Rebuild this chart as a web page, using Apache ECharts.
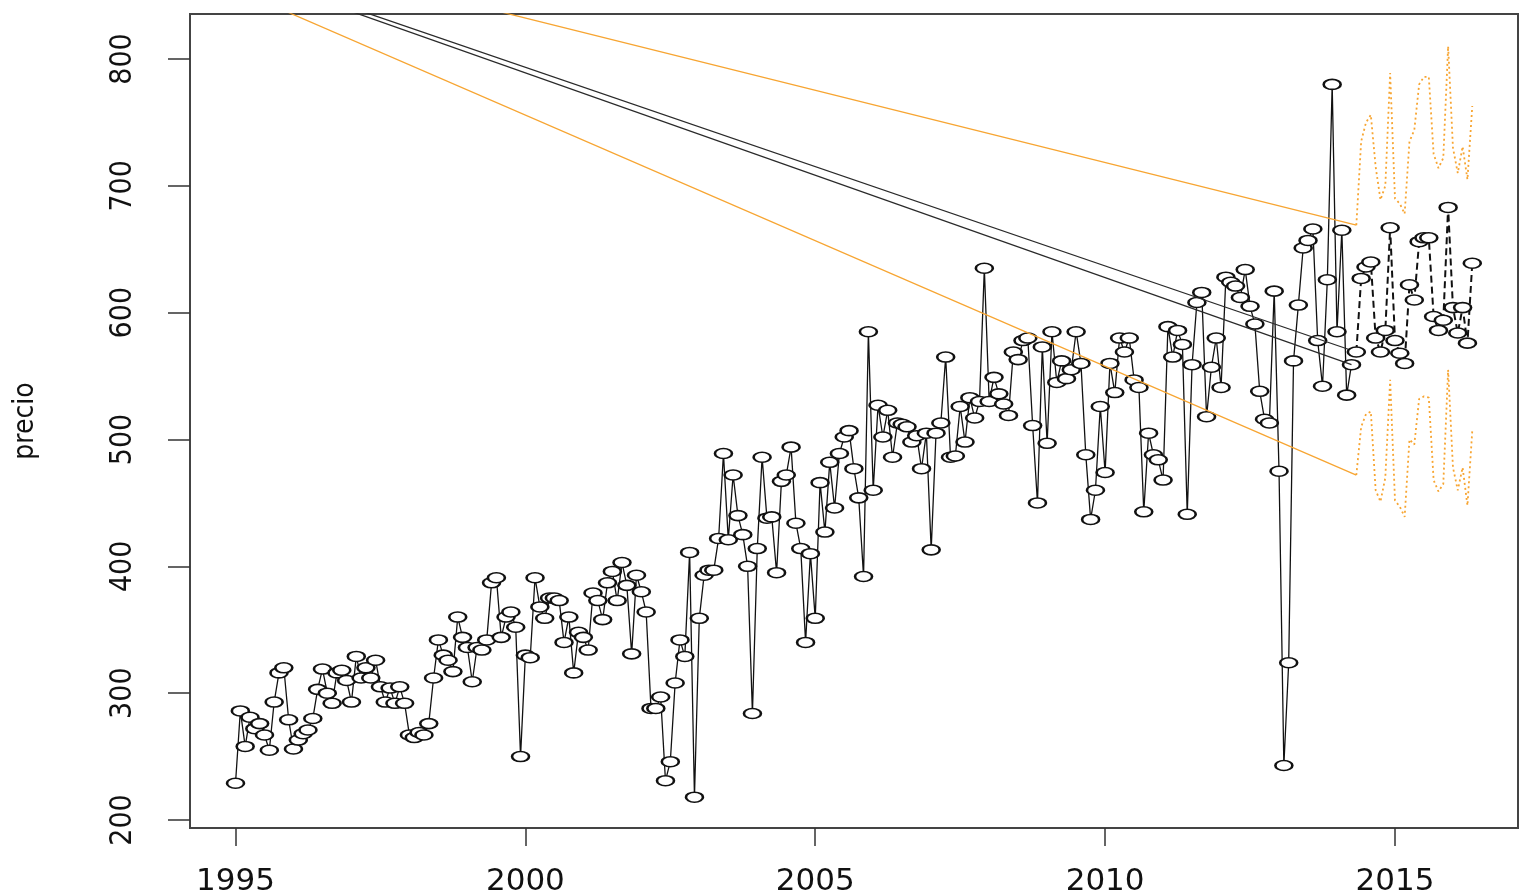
<!DOCTYPE html>
<html>
<head>
<meta charset="utf-8">
<title>precio</title>
<script src="https://cdn.jsdelivr.net/npm/echarts@6/dist/echarts.min.js"></script>
<style>
  html, body { margin: 0; padding: 0; background: #ffffff; }
  #chart { width: 1522px; height: 892px; }
</style>
</head>
<body>
<div id="chart"></div>
<script>
// Monthly price series, January 1995 to April 2014
const inicioSerie = 1995;
const precio = [
  229, 286, 258, 281, 272, 276, 267, 255, 293, 316, 320, 279,   // 1995
  256, 263, 268, 271, 280, 303, 319, 300, 292, 316, 318, 310,   // 1996
  293, 329, 312, 320, 312, 326, 305, 293, 304, 292, 305, 292,   // 1997
  267, 265, 269, 267, 276, 312, 342, 330, 326, 317, 360, 344,   // 1998
  336, 309, 336, 334, 342, 387, 391, 344, 360, 364, 352, 250,   // 1999
  330, 328, 391, 368, 359, 375, 375, 373, 340, 360, 316, 348,   // 2000
  344, 334, 379, 373, 358, 387, 396, 373, 403, 385, 331, 393,   // 2001
  380, 364, 288, 288, 297, 231, 246, 308, 342, 329, 411, 218,   // 2002
  359, 393, 397, 397, 422, 489, 421, 472, 440, 425, 400, 284,   // 2003
  414, 486, 438, 439, 395, 467, 472, 494, 434, 414, 340, 410,   // 2004
  359, 466, 427, 482, 446, 489, 502, 507, 477, 454, 392, 585,   // 2005
  460, 527, 502, 523, 486, 513, 512, 510, 498, 503, 477, 505,   // 2006
  413, 505, 513, 565, 486, 487, 526, 498, 533, 517, 530, 635,   // 2007
  530, 549, 536, 528, 519, 569, 563, 578, 580, 511, 450, 573,   // 2008
  497, 585, 545, 562, 548, 555, 585, 560, 488, 437, 460, 526,   // 2009
  474, 560, 537, 580, 569, 580, 547, 541, 443, 505, 488, 484,   // 2010
  468, 589, 565, 586, 575, 441, 559, 608, 616, 518, 557, 580,   // 2011
  541, 628, 624, 621, 612, 634, 605, 591, 538, 516, 513, 617,   // 2012
  475, 243, 324, 562, 606, 651, 657, 666, 578, 542, 626, 780,   // 2013
  585, 665, 535, 559                                            // 2014
];

// Forecast from May 2014 with its upper and lower limits
const inicioPronostico = 2014 + 4 / 12;
const pronostico = [569, 627, 636, 640, 580, 569, 586, 667, 578, 568, 560, 622, 610,
                    656, 659, 659, 597, 586, 594, 683, 604, 584, 604, 576, 639];
const limiteSuperior = [669, 735, 750, 756, 715, 689, 700, 789, 690, 686, 678, 735, 744,
                        780, 786, 786, 725, 714, 722, 810, 730, 710, 731, 705, 763];
const limiteInferior = [472, 510, 520, 522, 460, 451, 470, 547, 452, 447, 439, 500, 496,
                        532, 534, 533, 468, 459, 465, 555, 478, 460, 478, 448, 507];

// Shared starting point of the straight segments drawn with the forecast
const origenSegmentos = [1990.9, 936];

// Axis ticks
const ticksX = [1995, 2000, 2005, 2010, 2015];
const ticksY = [200, 300, 400, 500, 600, 700, 800];

const aSerie = (valores, inicio) => valores.map((v, i) => [inicio + i / 12, v]);

const datosPrecio = aSerie(precio, inicioSerie);
const datosPronostico = aSerie(pronostico, inicioPronostico);
const datosSup = aSerie(limiteSuperior, inicioPronostico);
const datosInf = aSerie(limiteInferior, inicioPronostico);

const NEGRO = '#111111';
const NARANJA = '#F7A532';
const simbolo = [17, 10];
const fuenteEjeY = '"DejaVu Sans Condensed", "DejaVu Sans", sans-serif';

function segmento(fin, color) {
  return {
    type: 'line',
    data: [origenSegmentos, fin],
    showSymbol: false,
    silent: true,
    clip: true,
    lineStyle: { color: color, width: 1.3 },
    z: 3
  };
}

const chart = echarts.init(document.getElementById('chart'), null, { renderer: 'canvas' });

chart.setOption({
  animation: false,
  backgroundColor: '#ffffff',
  grid: {
    left: 190, right: 4, top: 14, bottom: 64,
    outerBoundsMode: 'none',
    containLabel: false,
    show: true, borderColor: '#444444', borderWidth: 2,
    backgroundColor: 'transparent'
  },
  xAxis: {
    type: 'value',
    min: 1994.215, max: 2017.122,
    axisLine: { show: false },
    splitLine: { show: false },
    axisTick: {
      show: true, customValues: ticksX, length: 18, inside: false,
      lineStyle: { color: '#333333', width: 1.5 }
    },
    axisLabel: {
      customValues: ticksX, formatter: v => String(v),
      margin: 38, fontSize: 31, color: '#111111',
      fontFamily: 'DejaVu Sans'
    }
  },
  yAxis: {
    type: 'value',
    min: 193.7, max: 835.5,
    name: 'precio',
    nameLocation: 'middle',
    nameGap: 150,
    nameTextStyle: { fontSize: 28, color: '#111111', fontFamily: fuenteEjeY },
    axisLine: { show: false },
    splitLine: { show: false },
    axisTick: {
      show: true, customValues: ticksY, length: 22, inside: false,
      lineStyle: { color: '#333333', width: 1.5 }
    },
    axisLabel: {
      customValues: ticksY, rotate: 90, margin: 52,
      fontSize: 30, color: '#111111', fontFamily: fuenteEjeY
    }
  },
  series: [
    {
      name: 'precio',
      type: 'line',
      data: datosPrecio,
      symbol: 'emptyCircle',
      symbolSize: simbolo,
      lineStyle: { color: NEGRO, width: 1.3 },
      itemStyle: { color: NEGRO, borderColor: NEGRO, borderWidth: 1.6 },
      z: 2
    },
    segmento(datosPrecio[datosPrecio.length - 1], '#2a2a2a'),
    segmento(datosPronostico[0], '#2a2a2a'),
    segmento(datosSup[0], NARANJA),
    segmento(datosInf[0], NARANJA),
    {
      name: 'pronostico',
      type: 'line',
      data: datosPronostico,
      symbol: 'emptyCircle',
      symbolSize: simbolo,
      lineStyle: { color: NEGRO, width: 2, type: [7, 4] },
      itemStyle: { color: NEGRO, borderColor: NEGRO, borderWidth: 1.6 },
      z: 4
    },
    {
      name: 'superior',
      type: 'line',
      data: datosSup,
      showSymbol: false,
      lineStyle: { color: NARANJA, width: 1.8, type: [2, 3] },
      z: 3
    },
    {
      name: 'inferior',
      type: 'line',
      data: datosInf,
      showSymbol: false,
      lineStyle: { color: NARANJA, width: 1.8, type: [2, 3] },
      z: 3
    }
  ]
});
</script>
</body>
</html>
